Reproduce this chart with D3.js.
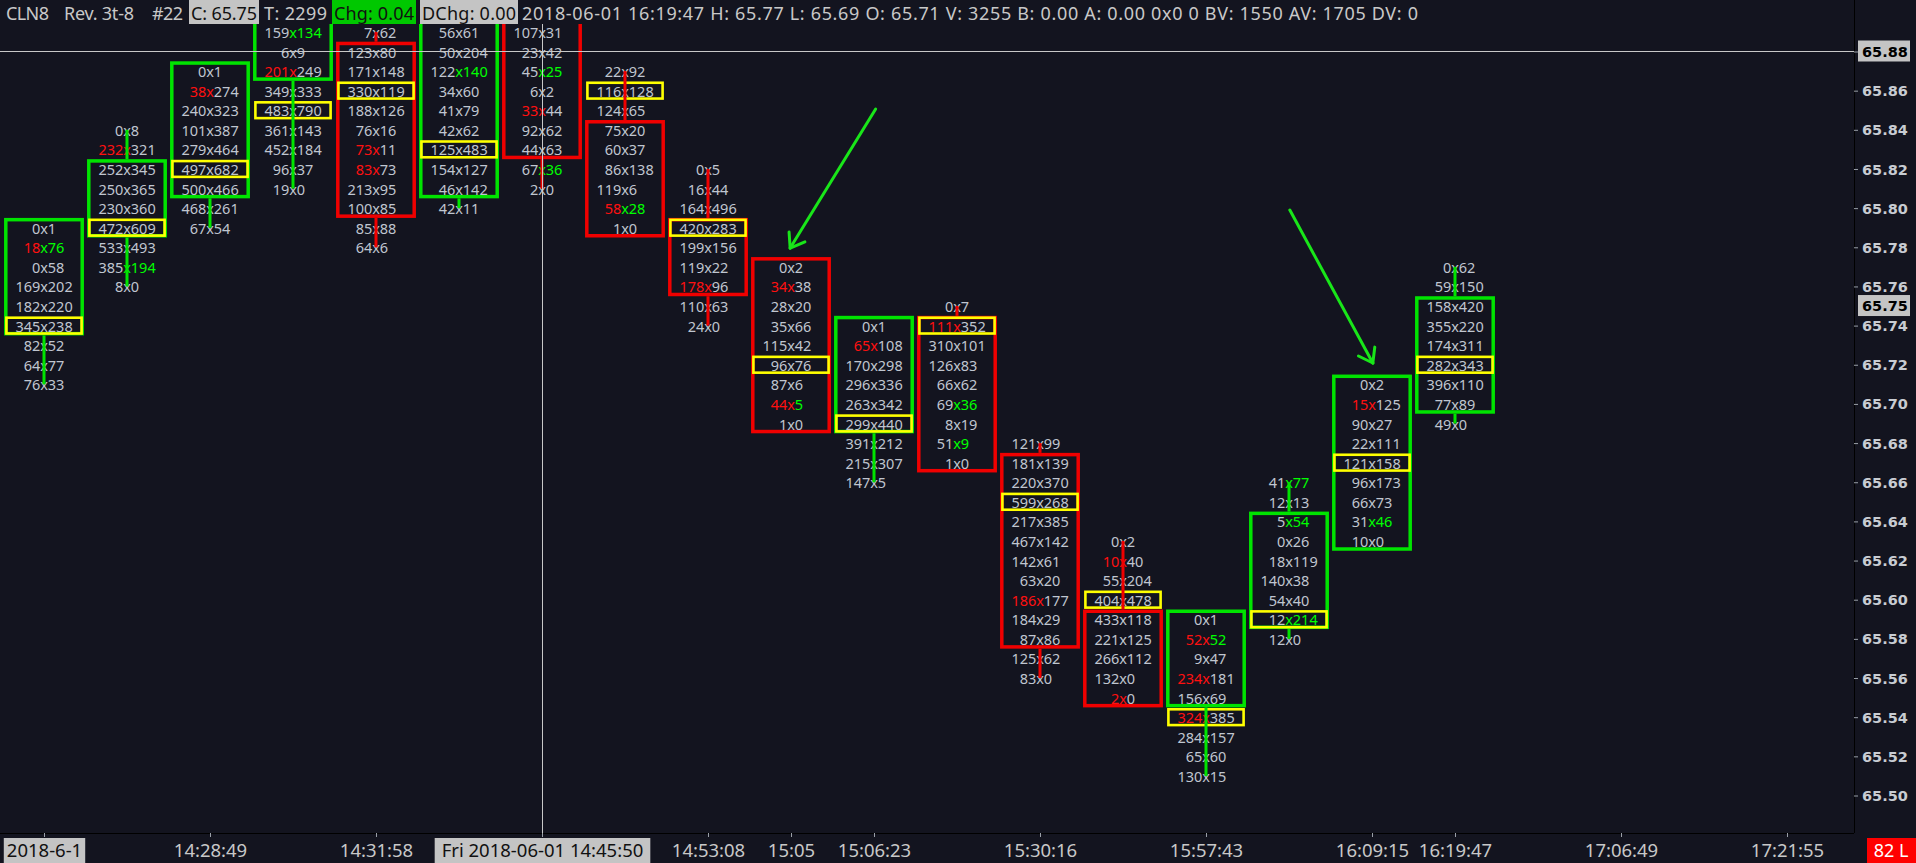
<!DOCTYPE html>
<html><head><meta charset="utf-8">
<script src="https://cdn.jsdelivr.net/npm/d3@7"></script>
<style>html,body{margin:0;padding:0;background:#13141f;overflow:hidden}</style>
</head><body><svg id="c" width="1916" height="863"></svg>
<script>
// ---------- DATA ----------
const timeTickIndex = [0,2,4,6,8,9,10,12,14,16,17,19,21];
const timeTickLabels = ["2018-6-1","14:28:49","14:31:58","Fri 2018-06-01 14:45:50","14:53:08","15:05","15:06:23","15:30:16","15:57:43","16:09:15","16:19:47","17:06:49","17:21:55"];
const priceTicks = [65.50,65.52,65.54,65.56,65.58,65.60,65.62,65.64,65.66,65.68,65.70,65.72,65.74,65.76,65.78,65.80,65.82,65.84,65.86,65.88];
const highPrice  = [65.79,65.84,65.87,65.89,65.89,65.89,65.89,65.87,65.82,65.77,65.74,65.75,65.68,65.63,65.59,65.66,65.71,65.77];
const bodyTop    = [65.79,65.82,65.87,65.91,65.88,65.91,65.91,65.84,65.79,65.77,65.74,65.74,65.67,65.59,65.59,65.64,65.71,65.75];
const bodyBottom = [65.74,65.79,65.81,65.87,65.80,65.81,65.83,65.79,65.76,65.69,65.69,65.67,65.58,65.55,65.55,65.59,65.63,65.70];
const direction  = ["up","up","up","up","down","up","down","down","down","down","up","down","down","down","up","up","up","up"];
const pocPrice   = [65.74,65.79,65.82,65.85,65.86,65.83,null,65.86,65.79,65.72,65.69,65.74,65.65,65.60,65.54,65.59,65.67,65.72];
const cells = [
 ["0x1","18x76","0x58","169x202","182x220","345x238","82x52","64x77","76x33"],
 ["0x8","232x321","252x345","250x365","230x360","472x609","533x493","385x194","8x0"],
 ["0x1","38x274","240x323","101x387","279x464","497x682","500x466","468x261","67x54"],
 ["159x134","6x9","201x249","349x333","483x790","361x143","452x184","96x37","19x0"],
 ["7x62","123x80","171x148","330x119","188x126","76x16","73x11","83x73","213x95","100x85","85x88","64x6"],
 ["56x61","50x204","122x140","34x60","41x79","42x62","125x483","154x127","46x142","42x11"],
 ["107x31","23x42","45x25","6x2","33x44","92x62","44x63","67x36","2x0"],
 ["22x92","116x128","124x65","75x20","60x37","86x138","119x6","58x28","1x0"],
 ["0x5","16x44","164x496","420x283","199x156","119x22","178x96","110x63","24x0"],
 ["0x2","34x38","28x20","35x66","115x42","96x76","87x6","44x5","1x0"],
 ["0x1","65x108","170x298","296x336","263x342","299x440","391x212","215x307","147x5"],
 ["0x7","111x352","310x101","126x83","66x62","69x36","8x19","51x9","1x0"],
 ["121x99","181x139","220x370","599x268","217x385","467x142","142x61","63x20","186x177","184x29","87x86","125x62","83x0"],
 ["0x2","10x40","55x204","404x478","433x118","221x125","266x112","132x0","2x0"],
 ["0x1","52x52","9x47","234x181","156x69","324x385","284x157","65x60","130x15"],
 ["41x77","12x13","5x54","0x26","18x119","140x38","54x40","12x214","12x0"],
 ["0x2","15x125","90x27","22x111","121x158","96x173","66x73","31x46","10x0"],
 ["0x62","59x150","158x420","355x220","174x311","282x343","396x110","77x89","49x0"]
];
// [column, row, code]  b: bid red (x red), a: ask green (x green), bA: bid red + x/ask green, Ba: bid/x red + ask green
const imbalances = [[0,1,"bA"],[1,1,"b"],[1,7,"a"],[2,1,"b"],[3,0,"a"],[3,2,"b"],[4,6,"b"],[4,7,"b"],[5,2,"a"],
 [6,2,"a"],[6,4,"b"],[6,7,"a"],[7,7,"bA"],[8,6,"b"],[9,1,"b"],[9,7,"Ba"],[10,1,"b"],[11,1,"b"],[11,5,"a"],[11,7,"a"],
 [12,8,"b"],[13,1,"b"],[13,8,"b"],[14,1,"Ba"],[14,3,"b"],[14,5,"b"],[15,0,"a"],[15,2,"a"],[15,7,"a"],[16,1,"b"],[16,7,"a"]];
const headerItems = ["CLN8","Rev. 3t-8","#22","C: 65.75","T: 2299","Chg: 0.04","DChg: 0.00",
  "2018-06-01 16:19:47 H: 65.77 L: 65.69 O: 65.71 V: 3255 B: 0.00 A: 0.00 0x0 0 BV: 1550 AV: 1705 DV: 0"];
const headerStyle = ["plain","plain","plain","gray","plain","green","gray","plain"];
const crossPrice = 65.88, crossIndex = 6, lastPrice = 65.75;
// arrows: [startIndex, startPrice, tipIndex, tipPrice]
const arrows = [[10.02,65.8506,8.99,65.7796],[15.01,65.799,16.01,65.7209]];

// ---------- LAYOUT ----------
const W=1916,H=863, plotRight=1854, plotBottom=833, headerH=24;
const BG="#13141f", TXT="#c0c6d0", GREEN="#00e400", RED="#f00000", YEL="#ffff00";
const x = d3.scaleLinear().domain([0,21]).range([44,44+83*21]);
const y = d3.scaleLinear().domain([65.50,65.88]).range([795.5,51.5]);
const rowH = y(65.50)-y(65.51);
const svg = d3.select("#c");
svg.append("rect").attr("width",W).attr("height",H).attr("fill",BG);
const defs = svg.append("defs");
defs.append("clipPath").attr("id","plot").append("rect").attr("x",0).attr("y",0).attr("width",plotRight).attr("height",plotBottom);
const g = svg.append("g").attr("clip-path","url(#plot)");

const imbMap = new Map(imbalances.map(d=>[d[0]+"_"+d[1], d[2]]));
cells.forEach((col,i)=>{
  const cx = x(i);
  const col_ = direction[i]==="up"?GREEN:RED;
  const topEdge = y(bodyTop[i]) - rowH/2, botEdge = y(bodyBottom[i]) + rowH/2;
  g.append("rect").attr("x",cx-38.2).attr("y",topEdge+1.75).attr("width",76.4).attr("height",botEdge-topEdge-3.5)
    .attr("fill","none").attr("stroke",col_).attr("stroke-width",3.5);
  if(pocPrice[i]!=null){
    g.append("rect").attr("x",cx-37.6).attr("y",y(pocPrice[i])-7.9).attr("width",75.2).attr("height",15.8)
     .attr("fill","none").attr("stroke",YEL).attr("stroke-width",2.6);
  }
  col.forEach((s,r)=>{
    const [b,a] = s.split("x");
    const p = highPrice[i] - r*0.01;
    const cy = y(p);
    const code = imbMap.get(i+"_"+r)||"";
    const bc = (code==="b"||code==="bA"||code==="Ba") ? "#ff1010" : TXT;
    const ac = (code==="a"||code==="bA"||code==="Ba") ? "#00ff00" : TXT;
    const xc = (code==="b"||code==="Ba") ? "#ff1010" : (code==="a"||code==="bA") ? "#00ff00" : TXT;
    const t = g.append("g").attr("font-family","'Noto Sans',sans-serif").attr("font-size",14.5).attr("dominant-baseline","central");
    t.append("text").attr("x",cx-3.6).attr("y",cy).attr("text-anchor","end").attr("fill",bc).text(b);
    t.append("text").attr("x",cx).attr("y",cy).attr("text-anchor","middle").attr("fill",xc).text("x");
    t.append("text").attr("x",cx+3.8).attr("y",cy).attr("text-anchor","start").attr("fill",ac).text(a);
  });
  const lowPrice = highPrice[i] - (col.length-1)*0.01;
  if(y(highPrice[i]) < topEdge) g.append("line").attr("x1",cx).attr("x2",cx).attr("y1",y(highPrice[i])).attr("y2",topEdge).attr("stroke",col_).attr("stroke-width",3);
  if(y(lowPrice) > botEdge) g.append("line").attr("x1",cx).attr("x2",cx).attr("y1",botEdge).attr("y2",y(lowPrice)).attr("stroke",col_).attr("stroke-width",3);
});

// arrows
arrows.forEach(a=>{
  const x1=x(a[0]),y1=y(a[1]),x2=x(a[2]),y2=y(a[3]);
  g.append("line").attr("x1",x1).attr("y1",y1).attr("x2",x2).attr("y2",y2).attr("stroke","#19e619").attr("stroke-width",3).attr("stroke-linecap","round");
  const ang = Math.atan2(y1-y2,x1-x2), L=16, spread=0.62;
  [ang-spread, ang+spread].forEach(t=>{
    g.append("line").attr("x1",x2).attr("y1",y2).attr("x2",x2+L*Math.cos(t)).attr("y2",y2+L*Math.sin(t))
     .attr("stroke","#19e619").attr("stroke-width",3).attr("stroke-linecap","round");
  });
});

// crosshair
g.append("line").attr("x1",0).attr("x2",plotRight).attr("y1",y(crossPrice)).attr("y2",y(crossPrice)).attr("stroke","#c8c8c8").attr("stroke-width",1);
g.append("line").attr("x1",x(crossIndex)+0.5).attr("x2",x(crossIndex)+0.5).attr("y1",0).attr("y2",plotBottom).attr("stroke","#c8c8c8").attr("stroke-width",1);

// header band
svg.append("rect").attr("x",0).attr("y",0).attr("width",plotRight).attr("height",headerH).attr("fill",BG);
const hx = d3.scaleLinear().domain([0,1]).range([0,1]); // identity helper
// header item extents (left, right) in pixels
const headerExtents = [[6,49],[64,134],[152,183],[189,259],[264,327],[332,416],[420,518],[522,1418]];
headerItems.forEach((txt,i)=>{
  const [l,r] = headerExtents[i];
  const st = headerStyle[i];
  if(st!=="plain"){
    svg.append("rect").attr("x",l).attr("y",0).attr("width",r-l).attr("height",headerH).attr("fill",st==="gray"?"#c4c4c4":"#00c800");
  }
  const pad = st==="plain"?0:2;
  svg.append("text").attr("x",l+pad).attr("y",12.5).attr("dominant-baseline","central")
    .attr("font-family","'Noto Sans',sans-serif").attr("font-size",18)
    .attr("fill",st==="plain"?"#c8c8c8":"#111")
    .attr("textLength",r-l-2*pad).attr("lengthAdjust","spacing").text(txt);
});

// right axis
const ya = svg.append("g").attr("transform",`translate(${plotRight},0)`)
  .call(d3.axisRight(y).tickValues(priceTicks).tickFormat(d3.format(".2f")).tickSize(4).tickPadding(4));
ya.select(".domain").attr("stroke","#000").attr("d",`M0.5,0V${plotBottom}`);
ya.selectAll(".tick line").attr("stroke","#9aa0a8");
ya.selectAll(".tick text").attr("fill","#c8ccd2").attr("font-family","'DejaVu Sans',sans-serif").attr("font-size",14.5).attr("font-weight","bold").attr("dy","0.35em").attr("y",0);
function yTag(p){
  const gg = svg.append("g").attr("transform",`translate(${plotRight},${y(p)})`);
  gg.append("rect").attr("x",4).attr("y",-11).attr("width",52).attr("height",21).attr("fill","#c4c4c4");
  gg.append("text").attr("x",8).attr("y",0).attr("dy","0.35em").attr("fill","#000").attr("font-family","'DejaVu Sans',sans-serif").attr("font-size",14.5).attr("font-weight","bold").text(d3.format(".2f")(p));
}
yTag(crossPrice); yTag(lastPrice);

// bottom axis
const xa = svg.append("g").attr("transform",`translate(0,${plotBottom})`)
  .call(d3.axisBottom(x).tickValues(timeTickIndex).tickFormat((d,i)=>timeTickLabels[i]).tickSize(4));
xa.select(".domain").attr("stroke","#000").attr("d",`M0,0.5H${plotRight}`);
xa.selectAll(".tick line").attr("stroke","#9aa0a8");
xa.selectAll(".tick").each(function(d,i){
  const tk=d3.select(this);
  const tx=tk.select("text").attr("y",18).attr("dy","0.35em").attr("fill","#c8c8c8").attr("font-family","'Noto Sans',sans-serif").attr("font-size",18.5);
  if(i===0||d===crossIndex){
    const bb=tx.node().getBBox();
    const padX = i===0?3:7;
    tk.insert("rect","text").attr("x",bb.x-padX).attr("y",5).attr("width",bb.width+2*padX).attr("height",25).attr("fill","#c4c4c4");
    tx.attr("fill","#111");
  }
});
// bottom-right tag
svg.append("rect").attr("x",1867).attr("y",838).attr("width",49).attr("height",25).attr("fill","#ff0000");
svg.append("text").attr("x",1891).attr("y",851).attr("dy","0.35em").attr("text-anchor","middle").attr("fill","#fff").attr("font-family","'Noto Sans',sans-serif").attr("font-size",18).text("82 L");
</script></body></html>
